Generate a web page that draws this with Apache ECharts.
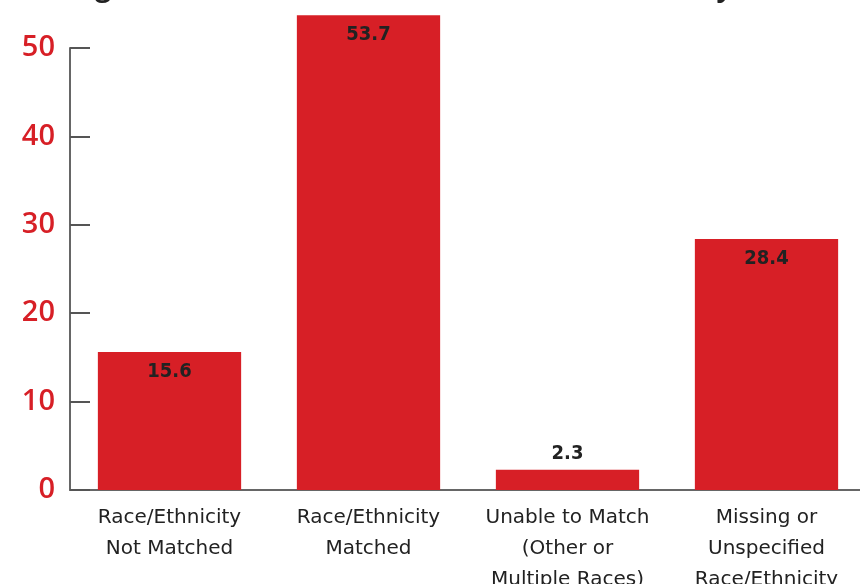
<!DOCTYPE html>
<html>
<head>
<meta charset="utf-8">
<script src="https://cdn.jsdelivr.net/npm/echarts@6/dist/echarts.min.js"></script>
<style>
  html, body { margin: 0; padding: 0; background: #fff; }
  #chart { width: 860px; height: 584px; }
</style>
</head>
<body>
<div id="chart"></div>
<script>
var categories = [
  'Race/Ethnicity\nNot Matched',
  'Race/Ethnicity\nMatched',
  'Unable to Match\n(Other or\nMultiple Races)',
  'Missing or\nUnspecified\nRace/Ethnicity'
];
var values = [15.6, 53.7, 2.3, 28.4];
var yTicks = [0, 10, 20, 30, 40, 50];

var red = '#d71f26';

var chart = echarts.init(document.getElementById('chart'));

// small bars get their label above, the rest inside the top
var barData = values.map(function (v) {
  return {
    value: v,
    label: v < 5 ? { position: 'top', distance: 6 } : { position: 'insideTop', distance: 10 }
  };
});

var option = {
  animation: false,
  title: {
    text: 'Agreement Between Records on Race/Ethnicity (%)',
    left: 'center',
    top: -31,
    textStyle: { fontFamily: 'Open Sans', fontWeight: 'bold', fontSize: 28, color: '#222' }
  },
  grid: { left: 70, right: -6, top: 48, bottom: 94, outerBoundsMode: 'none', containLabel: false },
  xAxis: {
    type: 'category',
    data: categories,
    axisLine: { lineStyle: { color: '#666', width: 2 } },
    axisTick: { inside: true, length: 10, lineStyle: { color: '#666', width: 1.5 } },
    axisLabel: {
      interval: 0,
      color: '#222',
      fontFamily: 'DejaVu Sans',
      fontSize: 20,
      lineHeight: 31,
      margin: 12
    }
  },
  yAxis: {
    type: 'value',
    min: 0,
    max: 50,
    interval: 10,
    axisLine: { show: true, lineStyle: { color: '#666', width: 2 } },
    axisTick: { show: true, inside: true, length: 20, lineStyle: { color: '#555', width: 2 } },
    splitLine: { show: false },
    axisLabel: {
      color: red,
      fontFamily: 'Open Sans',
      fontWeight: 600,
      fontSize: 29,
      margin: 15,
      formatter: function (v) { return yTicks.indexOf(v) >= 0 ? String(v) : ''; }
    }
  },
  series: [{
    type: 'bar',
    data: barData,
    barWidth: '72%',
    clip: false,
    itemStyle: { color: red },
    label: {
      show: true,
      color: '#222',
      fontFamily: 'DejaVu Sans Condensed',
      fontWeight: 'bold',
      fontSize: 20
    }
  }]
};

chart.setOption(option);
</script>
</body>
</html>
